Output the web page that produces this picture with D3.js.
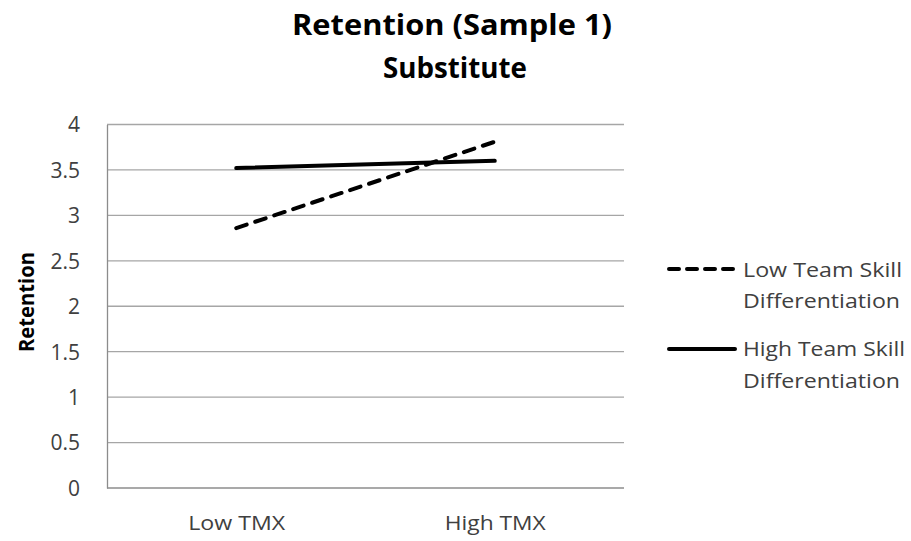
<!DOCTYPE html>
<html><head><meta charset="utf-8">
<script src="https://cdn.jsdelivr.net/npm/d3@7"></script>
<style>body{margin:0;background:#fff}</style>
</head><body>
<svg id="c" width="911" height="541"></svg>
<script>
const categories = ["Low TMX", "High TMX"];
const lowSkill = [2.86, 3.81];
const highSkill = [3.52, 3.60];
const yTicks = [0, 0.5, 1, 1.5, 2, 2.5, 3, 3.5, 4];
const seriesNames = [["Low Team Skill", "Differentiation"], ["High Team Skill", "Differentiation"]];
const titleLines = ["Retention (Sample 1)", "Substitute"];

const svg = d3.select("#c");
const font = "'Open Sans', 'Noto Sans', sans-serif";
const m = {l:107, r:624, t:124.5, b:488};
const x = d3.scalePoint().domain(categories).range([m.l, m.r]).padding(0.5);
const y = d3.scaleLinear().domain([0, 4]).range([m.b, m.t]);

function fit(sel, w) {
  sel.each(function(){
    const n = this.getComputedTextLength();
    if (Math.abs(n - w) > 2) d3.select(this).attr("textLength", w).attr("lengthAdjust", "spacingAndGlyphs");
  });
}

// gridlines
svg.append("g").selectAll("line").data(yTicks.filter(d=>d>0)).join("line")
  .attr("x1", m.l).attr("x2", m.r).attr("y1", d=>y(d)).attr("y2", d=>y(d))
  .attr("stroke", "#a6a6a6").attr("stroke-width", 1.3);

// axes
const ya = svg.append("g").attr("transform", `translate(${m.l},0)`)
  .call(d3.axisLeft(y).tickValues(yTicks).tickSize(0).tickPadding(27).tickFormat(d3.format("")));
ya.select(".domain").attr("stroke", "#8c8c8c").attr("stroke-width", 1.3);
ya.selectAll("text").attr("font-family", font).attr("font-size", 21).attr("fill", "#404040").attr("dy", "0.35em");

const xa = svg.append("g").attr("transform", `translate(0,${m.b})`)
  .call(d3.axisBottom(x).tickSize(0).tickPadding(0));
xa.select(".domain").attr("stroke", "#8c8c8c").attr("stroke-width", 1.3).attr("d", `M${m.l},0H${m.r}`);
xa.selectAll("text").attr("font-family", font).attr("font-size", 20).attr("fill", "#404040")
  .attr("dy", null).attr("y", 42);
xa.selectAll(".tick text").each(function(d){ fit(d3.select(this), d === "Low TMX" ? 97 : 101); });

// lines
const line = d3.line().x((d,i)=>x(categories[i])).y(d=>y(d));
svg.append("path").datum(lowSkill).attr("d", line).attr("fill","none")
  .attr("stroke","#000").attr("stroke-width",4).attr("stroke-linecap","round").attr("stroke-dasharray","11,9");
svg.append("path").datum(highSkill).attr("d", line).attr("fill","none")
  .attr("stroke","#000").attr("stroke-width",4).attr("stroke-linecap","round");

// title
const tW = [320, 144], tY = [35, 78];
titleLines.forEach((t,i)=>{
  const el = svg.append("text").attr("x", i===0?452:455).attr("y", tY[i]).attr("text-anchor","middle")
    .attr("font-family", font).attr("font-weight","bold").attr("font-size",29).attr("fill","#000").text(t);
  fit(el, tW[i]);
});

// y label
const yl = svg.append("text").attr("transform","translate(34,302) rotate(-90)").attr("text-anchor","middle")
  .attr("font-family", font).attr("font-weight","bold").attr("font-size",21).attr("fill","#000").text("Retention");
fit(yl, 100);

// legend
const leg = [{y:269, dash:"10,8", ty:[277,308], w:[159,157]}, {y:349, dash:null, ty:[356,388], w:[162,157]}];
leg.forEach((l,i)=>{
  svg.append("line").attr("x1",669).attr("x2",735).attr("y1",l.y).attr("y2",l.y)
    .attr("stroke","#000").attr("stroke-width",4).attr("stroke-linecap","round").attr("stroke-dasharray", l.dash);
  seriesNames[i].forEach((s,j)=>{
    const el = svg.append("text").attr("x",743).attr("y",l.ty[j]).attr("font-family", font)
      .attr("font-size",20).attr("fill","#404040").text(s);
    fit(el, l.w[j]);
  });
});
</script>
</body></html>
